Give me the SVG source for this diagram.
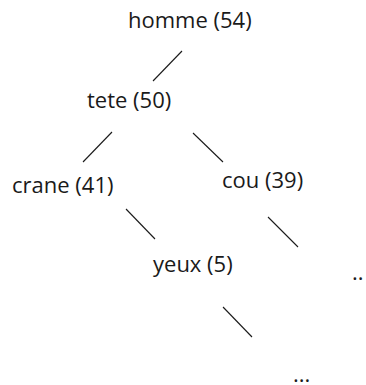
<svg xmlns="http://www.w3.org/2000/svg" width="366" height="385" viewBox="0 0 366 385">
<style>
text{font-family:"Open Sans","Noto Sans",sans-serif;font-size:22px;fill:#1a1a1a}
.e{stroke:#1a1a1a;stroke-width:1.1;fill:none}
</style>
<rect width="366" height="385" fill="#fff"/>
<g id="connectors">
<line class="e" x1="182" y1="51" x2="153" y2="81"/>
<line class="e" x1="112" y1="132" x2="83" y2="162"/>
<line class="e" x1="193" y1="133" x2="223" y2="162"/>
<line class="e" x1="126" y1="209" x2="155" y2="239"/>
<line class="e" x1="268" y1="217" x2="298" y2="247"/>
<line class="e" x1="223" y1="307" x2="252" y2="337"/>
</g>
<g id="homme"><text x="128" y="28">homme (54)</text></g>
<g id="tete"><text x="87" y="108">tete (50)</text></g>
<g id="crane"><text x="12" y="193">crane (41)</text></g>
<g id="cou"><text x="222" y="188">cou (39)</text></g>
<g id="yeux"><text x="153" y="272">yeux (5)</text></g>
<g id="dots1"><text x="352" y="280">..</text></g>
<g id="dots2"><text x="293" y="382">...</text></g>
</svg>
